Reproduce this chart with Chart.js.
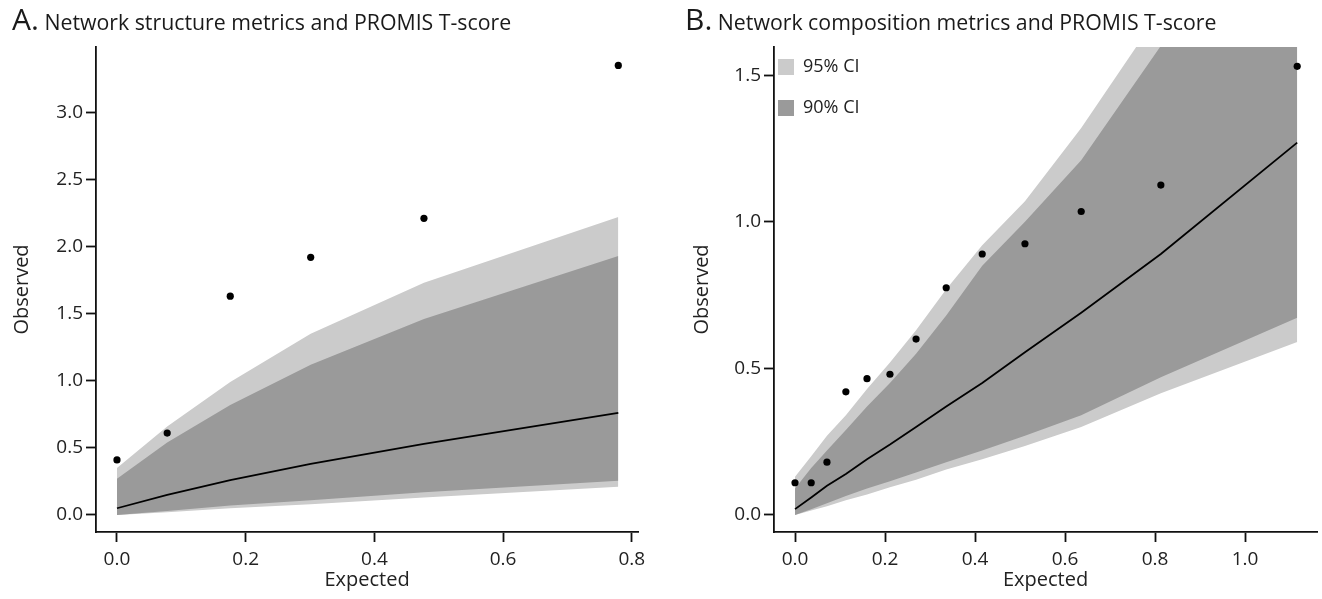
<!DOCTYPE html>
<html><head><meta charset="utf-8">
<script src="https://cdn.jsdelivr.net/npm/chart.js@4.4.1/dist/chart.umd.min.js"></script>
<style>
body{margin:0;background:#fff;width:1322px;height:599px;overflow:hidden;position:relative;font-family:'Open Sans',sans-serif;color:#1a1a1a}
.panel{position:absolute;top:0;width:661px;height:599px}
.title{position:absolute;top:2px;white-space:nowrap;font-size:21.3px;line-height:34px}
.title .lab{font-size:30px}
</style></head><body>
<div class="panel" style="left:0"><canvas id="cA" width="661" height="599"></canvas></div>
<div class="panel" style="left:661px"><canvas id="cB" width="661" height="599"></canvas></div>
<div class="title" style="left:12px"><span class="lab">A.</span> Network structure metrics and PROMIS T-score</div>
<div class="title" style="left:685px"><span class="lab">B.</span> Network composition metrics and PROMIS T-score</div>
<script>
// ---- Panel A data ----
const expA  = [0, 0.078, 0.176, 0.301, 0.477, 0.779];
const obsA  = [0.41, 0.61, 1.63, 1.92, 2.21, 3.35];
const medA  = [0.05, 0.15, 0.26, 0.38, 0.53, 0.76];
const hi95A = [0.35, 0.66, 0.99, 1.35, 1.73, 2.22];
const lo95A = [0.0, 0.02, 0.05, 0.08, 0.13, 0.21];
const hi90A = [0.27, 0.54, 0.82, 1.12, 1.46, 1.93];
const lo90A = [0.0, 0.03, 0.07, 0.11, 0.17, 0.255];
const xTicksA = [0, 0.2, 0.4, 0.6, 0.8];
const yTicksA = [0, 0.5, 1.0, 1.5, 2.0, 2.5, 3.0];

// ---- Panel B data ----
const expB  = [0, 0.036, 0.071, 0.113, 0.16, 0.211, 0.269, 0.336, 0.416, 0.511, 0.636, 0.813, 1.116];
const obsB  = [0.11, 0.11, 0.18, 0.42, 0.465, 0.48, 0.60, 0.775, 0.89, 0.925, 1.035, 1.125, 1.53];
const medB  = [0.02, 0.06, 0.10, 0.14, 0.19, 0.24, 0.30, 0.37, 0.45, 0.555, 0.69, 0.89, 1.27];
const hi95B = [0.13, 0.20, 0.27, 0.34, 0.43, 0.52, 0.63, 0.77, 0.92, 1.07, 1.32, 1.72, 2.40];
const lo95B = [0.0, 0.015, 0.03, 0.05, 0.07, 0.095, 0.12, 0.155, 0.19, 0.235, 0.30, 0.415, 0.59];
const hi90B = [0.09, 0.16, 0.22, 0.29, 0.37, 0.45, 0.55, 0.68, 0.85, 1.00, 1.21, 1.60, 2.25];
const lo90B = [0.0, 0.02, 0.04, 0.065, 0.09, 0.115, 0.145, 0.18, 0.22, 0.27, 0.34, 0.47, 0.673];
const xTicksB = [0, 0.2, 0.4, 0.6, 0.8, 1.0];
const yTicksB = [0, 0.5, 1.0, 1.5];

const ciLabels = ['95% CI', '90% CI'];
const xTitle = 'Expected', yTitle = 'Observed';

const LIGHT = '#cbcbcb', DARK = '#9a9a9a', INK = '#111', TXT = '#222';

Chart.defaults.font.family = "'Open Sans', sans-serif";
Chart.defaults.animation = false;

function pts(xs, ys) { return xs.map((x, i) => ({x: x, y: ys[i]})); }

function band(label, xs, ys, color, fill, order) {
  return {label: label, data: pts(xs, ys), backgroundColor: color, borderColor: 'rgba(0,0,0,0)',
          borderWidth: 0, pointRadius: 0, fill: fill, order: order, tension: 0};
}

function axis(min, max, ticks, title, isY, size, titlePad) {
  return {
    type: 'linear', min: min, max: max,
    afterBuildTicks: s => { s.ticks = ticks.map(v => ({value: v})); },
    afterFit: s => { if (isY) s.width = size; else s.height = size; },
    grid: {display: true, drawOnChartArea: false, drawTicks: true, tickLength: 10,
           tickWidth: 1.8, tickColor: INK, color: INK},
    border: {display: true, color: INK, width: 1.8},
    ticks: {padding: isY ? 3 : 6, color: TXT, font: {size: 19}, maxRotation: 0, autoSkip: false,
            callback: v => Number(v).toFixed(1)},
    title: {display: true, text: title, color: TXT, font: {size: 20}, padding: titlePad}
  };
}

function makeChart(id, xs, obs, med, hi95, lo95, hi90, lo90, xr, yr, xt, yt, yW, padR, yTitlePad, showLegend) {
  const legendPos = {
    id: 'legendPos',
    afterLayout(chart) {
      if (showLegend && chart.legend) { chart.legend.left = 94; chart.legend.top = 35; }
    }
  };
  return new Chart(document.getElementById(id), {
    type: 'line',
    data: {datasets: [
      band(ciLabels[0], xs, hi95, LIGHT, 1, 5),
      band('95% lower', xs, lo95, LIGHT, false, 6),
      band(ciLabels[1], xs, hi90, DARK, 3, 3),
      band('90% lower', xs, lo90, DARK, false, 4),
      {label: 'Median', data: pts(xs, med), borderColor: '#000', borderWidth: 1.8, pointRadius: 0,
       fill: false, order: 1, tension: 0},
      {label: 'Observed', data: pts(xs, obs), showLine: false, pointRadius: 3.6,
       pointBackgroundColor: '#000', pointBorderColor: '#000', pointBorderWidth: 0, order: 0}
    ]},
    options: {
      responsive: false, devicePixelRatio: 1, events: [],
      layout: {padding: {left: 0, top: 47, right: padR, bottom: 0}},
      scales: {
        x: axis(xr[0], xr[1], xt, xTitle, false, 67, {top: 0, bottom: 7}),
        y: axis(yr[0], yr[1], yt, yTitle, true, yW, {top: yTitlePad, bottom: 0})
      },
      plugins: {
        tooltip: {enabled: false},
        title: {display: false},
        legend: {
          display: showLegend, position: 'chartArea', align: 'start',
          labels: {boxWidth: 16, boxHeight: 16, padding: 23, color: TXT, font: {size: 18},
                   filter: item => ciLabels.includes(item.text),
                   sort: (a, b) => a.datasetIndex - b.datasetIndex}
        }
      }
    },
    plugins: [legendPos]
  });
}

makeChart('cA', expA, obsA, medA, hi95A, lo95A, hi90A, lo90A,
          [-0.0326, 0.8096], [-0.127, 3.487], xTicksA, yTicksA, 96, 23, 10, false);
makeChart('cB', expB, obsB, medB, hi95B, lo95B, hi90B, lo90B,
          [-0.0467, 1.16], [-0.058, 1.596], xTicksB, yTicksB, 113, 5, 29, true);
</script>
</body></html>
